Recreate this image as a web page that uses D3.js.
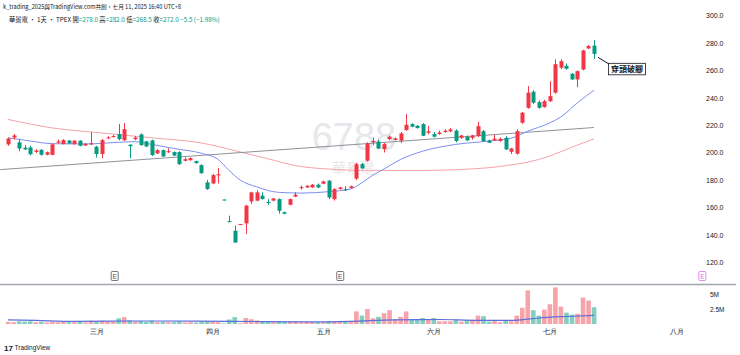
<!DOCTYPE html>
<html><head><meta charset="utf-8">
<script src="https://cdn.jsdelivr.net/npm/d3@7/dist/d3.min.js"></script>
<style>
html,body{margin:0;padding:0;background:#fff;}
svg{display:block;font-family:"Noto Sans CJK TC","Noto Sans",sans-serif;}
</style></head><body>
<svg id="c" width="740" height="355"></svg>
<script>
// ---------- data ----------
const opens  = [206,211,207.5,203.6,203.8,200.5,202,198.5,198.4,207.3,206.2,208.8,206.2,208.7,205.2,206,204.3,199,210.4,211.5,213.5,209.1,205.8,209.8,213.3,208.2,208.9,199.4,201.8,200.6,200.4,200.4,194,194.5,193.8,190.9,178.3,177.5,183.6,165.8,150,143,147.9,148.4,164.4,165,168.6,164,165,166.1,156.5,162,167.9,174.3,174.6,174.6,176.6,177.3,179.5,166.1,173.4,173.2,174.1,181,191.6,194.1,207.5,208,202.6,209.8,209.2,208.7,216.4,220.8,219.6,220.8,214.5,213.5,213.5,215,215.5,216,210.8,211.6,210.8,212,215.6,208.9,209,208.5,210.8,200.6,199.2,221.8,232.7,244.4,236.8,233.2,237.5,243.7,261.9,263.3,257.5,253.4,260.6,276,278];
const highs  = [211,213.5,209.6,205.5,205,202.5,202.5,200.8,206.8,209.5,209.8,209.2,209,209,207,215,205,210,212,213,220.8,221.5,206,212,214,208.6,209.5,202.5,202.3,203.2,200.8,201,196.5,196.5,194.2,191.5,180,184.5,188.7,165.8,154,146.7,147.9,162,171.5,172.5,171,166,167,166.6,157,166.5,171,176,176.3,177,177.5,179.5,180,174,175,175.5,176,192.5,192.5,207.5,211,209.5,207,212.5,211,215,228.1,221.5,220,221.5,219.5,215,216,217,218,217,213,212.5,213,222.5,216.5,209.5,213,211,212,203.5,217,229.6,248.5,245.5,238,238.5,252,268,268,265,258,260,275,278.5,282];
const lows   = [205,209.5,201,201.8,198,199.8,197.8,198,198,206.5,206,206.2,205.8,204.6,204.8,205.5,196.5,195.8,209.8,211,209,208.5,195.9,209,205,204,197.5,199,196.8,199.8,197.5,191,193.7,194,192,184.5,172.8,177,177.5,165.8,149.3,134.3,147.9,140.6,162.5,164.5,165.8,162,164.5,155.5,155,161.5,167.5,173,174.3,174.3,174,177,166,165,173,172,173.8,180,188,193.5,205.5,202.5,200.1,209,208.8,207,216,218.5,217.5,212,213.5,211,213,214.5,215,207.5,210,208.5,209.5,211.5,208,207,208.5,208,202,199,198.5,221,232,235.5,232,232.8,237,243,261,260.5,253,247.7,260,275.5,268.5];
const closes = [210.3,212.5,203,202.3,198.8,201.5,198.4,200.3,206,208.2,209.1,206.7,208.7,205,206.5,206.8,199,209.1,211.1,212.1,209.8,217.1,204.7,211,205.5,204.5,198.2,201.8,197.2,201,197.9,191.6,195.2,196,192.3,185,173.4,183.6,184.2,165.8,149.3,134.4,147.9,161.3,171,171,166.1,163.5,166.6,157.6,155.4,166.1,169.3,174.8,175.8,176.6,174.6,179,167.3,173.4,174.6,172.8,175.4,191.6,188.5,206.7,208.5,203,206.2,211.6,210.4,214,220.3,218.9,217.9,212.3,215.5,211.6,214.7,216,216.9,208.5,212.5,208.9,212.5,219.3,208.3,207.2,210.1,210,202.3,203,215.6,229.1,243.7,236.4,232.7,237.5,241.2,264.5,266.7,261.2,253.4,259.4,274.5,277.7,272];
const volumes = [0.35,0.3,0.45,0.4,0.45,0.3,0.35,0.25,0.4,0.3,0.35,0.3,0.3,0.35,0.25,0.55,0.5,0.55,0.45,0.4,0.95,1.15,0.6,0.4,0.5,0.35,0.55,0.3,0.35,0.3,0.3,0.45,0.25,0.3,0.25,0.4,0.45,0.35,0.3,0.1,0.75,1.15,0.15,1.0,0.8,0.6,0.45,0.35,0.3,0.45,0.3,0.35,0.4,0.3,0.35,0.35,0.3,0.3,0.5,0.4,0.4,0.4,0.4,2.1,1.4,2.5,0.95,1.2,1.8,2.3,0.8,1.2,2.1,0.8,0.8,1.0,0.8,1.0,0.45,0.45,0.45,0.7,0.4,0.6,0.7,1.4,1.3,0.4,0.55,0.3,0.65,0.45,1.4,2.7,5.6,2.3,1.4,2.4,3.3,6.1,2.9,1.9,1.55,1.7,4.4,3.9,2.8];

const monthIdx = [16,37,57,77,98,121];
const monthLabels = ["三月","四月","五月","六月","七月","八月"];
const priceTicks = [120,140,160,180,200,220,240,260,280,300];
const volTicks = [2.5,5];
const volTickLabels = ["2.5M","5M"];

const ma20Idx = [0,4,8,14,20,23,26,30,35,38,40,42,45,49,53,58,62,64,66,68,71,75,81,87,91,94,98,100,103,106];
const ma20Val = [210.8,208.5,206.5,206.3,207.5,208,206,203,199.5,195,187,180,175,171,170.5,171.5,173.5,178,183.5,188,195,201,206,208.4,210.5,215.6,221.7,226,236.3,245.5];
const ma60Idx = [0,8,17,26,35,41,44,48,52,58,64,75,87,90,94,98,102,106];
const ma60Val = [224.2,218,214.3,210.8,207,201.5,198.5,194.5,190.5,188,187,187,189,190.5,193,197.5,204,210];
const volMaIdx = [0,5,12,25,40,55,62,70,78,85,91,96,101,106];
const volMaVal = [0.7,0.6,0.45,0.5,0.45,0.35,0.45,0.7,0.75,0.6,0.6,1.0,1.25,1.45];
const trendIdx = [-1.4,106];
const trendVal = [187.6,218.3];
const earningsIdx = [19.3,60.1,125.6];
const watermarkCode = "6788";
const watermarkName = "華景電";
const noteText = "穿頭破腳";
const headerLine1 = "k_trading_2025與TradingView.com共創，七月 11, 2025 16:40 UTC+8";
const headerName = "華景電 · 1天 · TPEX";
const ohlcLabels = ["開","高","低","收"];
const ohlcValues = ["278.0","282.0","268.5","272.0"];
const changeText = "−5.5 (−1.98%)";

// ---------- setup ----------
const UP = "#f23645", DOWN = "#089981";
const svg = d3.select("#c");
svg.append("rect").attr("width",740).attr("height",355).attr("fill","#fff");

const x = d3.scaleLinear().domain([0,106]).range([8,594]);
const y = d3.scaleLinear().domain([120,300]).range([262.3,15.5]);
const yv = d3.scaleLinear().domain([0,5]).range([324,294]);

const defs = svg.append("defs");
defs.append("clipPath").attr("id","pc").append("rect").attr("x",0).attr("y",0).attr("width",700).attr("height",283);
defs.append("clipPath").attr("id","vc").append("rect").attr("x",0).attr("y",285).attr("width",700).attr("height",40);

const bars = closes.map((c,i)=>({i,o:opens[i],h:highs[i],l:lows[i],c,v:volumes[i]}));
function col(d){
  if (d.c>d.o) return UP;
  if (d.c<d.o) return DOWN;
  const prev = d.i>0?closes[d.i-1]:d.c;
  return d.c>=prev?UP:DOWN;
}

// ---------- watermark ----------
svg.append("text").attr("x",354).attr("y",150).attr("text-anchor","middle")
  .attr("font-size",38).attr("fill","#e7e8eb").attr("font-family","'Liberation Sans',sans-serif").text(watermarkCode);
svg.append("text").attr("x",353).attr("y",173).attr("text-anchor","middle")
  .attr("font-size",14).attr("fill","#e7e8eb").text(watermarkName);

// ---------- price pane ----------
const pg = svg.append("g").attr("clip-path","url(#pc)");
const lineGen = d3.line().x(d=>x(d[0])).y(d=>y(d[1])).curve(d3.curveMonotoneX);
pg.append("path").datum(ma60Idx.map((d,i)=>[d,ma60Val[i]])).attr("d",lineGen)
  .attr("fill","none").attr("stroke","#f5a3aa").attr("stroke-width",1);
pg.append("path").datum(trendIdx.map((d,i)=>[d,trendVal[i]])).attr("d",d3.line().x(d=>x(d[0])).y(d=>y(d[1])))
  .attr("fill","none").attr("stroke","#8f929b").attr("stroke-width",1);
pg.append("path").datum(ma20Idx.map((d,i)=>[d,ma20Val[i]])).attr("d",lineGen)
  .attr("fill","none").attr("stroke","#7d8ef0").attr("stroke-width",1);

const cg = pg.append("g");
cg.selectAll("line.w").data(bars).join("line")
  .attr("x1",d=>Math.round(x(d.i))+0.5).attr("x2",d=>Math.round(x(d.i))+0.5)
  .attr("y1",d=>y(d.h)).attr("y2",d=>Math.max(y(d.l),y(d.h)+1))
  .attr("stroke",col).attr("stroke-width",1);
cg.selectAll("rect.b").data(bars).join("rect")
  .attr("x",d=>Math.round(x(d.i))-1.5).attr("width",4)
  .attr("y",d=>y(Math.max(d.o,d.c)))
  .attr("height",d=>Math.max(1,Math.abs(y(d.o)-y(d.c))))
  .attr("fill",col);

// ---------- annotation ----------
const ax = x(106)+4, ay = y(269.5);
svg.append("line").attr("x1",ax).attr("y1",ay).attr("x2",ax+10.5).attr("y2",ay+6.5)
  .attr("stroke","#131722").attr("stroke-width",1);
svg.append("rect").attr("x",ax+10.5).attr("y",ay+6).attr("width",37).attr("height",11.5)
  .attr("fill","#fff").attr("stroke","#131722").attr("stroke-width",0.8);
svg.append("text").attr("x",ax+29).attr("y",ay+14.8).attr("text-anchor","middle")
  .attr("font-size",8).attr("font-weight","bold").attr("fill","#131722").text(noteText);

// ---------- price axis ----------
const ya = svg.append("g").attr("transform","translate(706,0)")
  .call(d3.axisRight(y).tickValues(priceTicks).tickFormat(d3.format(".1f")).tickSize(0).tickPadding(0));
ya.select(".domain").remove();
ya.selectAll("text").attr("font-size",7).attr("fill","#131722").attr("font-family","'Liberation Sans',sans-serif");

// ---------- earnings markers ----------
earningsIdx.forEach((e,k)=>{
  const ex = x(e);
  const c = k===2?"#d96ee6":"#50535e";
  svg.append("rect").attr("x",ex-3.5).attr("y",271.5).attr("width",7).attr("height",9)
    .attr("fill","#fff").attr("stroke",c).attr("stroke-width",0.8).attr("rx",1);
  svg.append("text").attr("x",ex).attr("y",278.8).attr("text-anchor","middle")
    .attr("font-size",6.5).attr("fill",c).attr("font-family","'Liberation Sans',sans-serif").text("E");
});

// separator
svg.append("line").attr("x1",0).attr("x2",736).attr("y1",284.5).attr("y2",284.5)
  .attr("stroke","#a3a6af").attr("stroke-width",1.5);

// ---------- volume pane ----------
const vg = svg.append("g").attr("clip-path","url(#vc)");
vg.selectAll("rect").data(bars).join("rect")
  .attr("x",d=>x(d.i)-2.2).attr("width",4.6)
  .attr("y",d=>yv(d.v)).attr("height",d=>yv(0)-yv(d.v))
  .attr("fill",d=>col(d)===UP?"#f7a3aa":"#84cdc0");
vg.append("path").datum(volMaIdx.map((d,i)=>[d,volMaVal[i]]))
  .attr("d",d3.line().x(d=>x(d[0])).y(d=>yv(d[1])).curve(d3.curveMonotoneX))
  .attr("fill","none").attr("stroke","#5d6fd8").attr("stroke-width",1.2);
const va = svg.append("g").attr("transform","translate(710,0)")
  .call(d3.axisRight(yv).tickValues(volTicks).tickFormat((d,i)=>volTickLabels[i]).tickSize(0).tickPadding(0));
va.select(".domain").remove();
va.selectAll("text").attr("font-size",6.5).attr("fill","#131722").attr("font-family","'Liberation Sans',sans-serif");

// ---------- time axis ----------
const xa = svg.append("g").attr("transform","translate(0,330.5)")
  .call(d3.axisBottom(x).tickValues(monthIdx).tickFormat((d,i)=>monthLabels[i]).tickSize(0).tickPadding(0));
xa.select(".domain").remove();
xa.selectAll("text").attr("font-size",6.5).attr("fill","#131722").attr("dy","0.6em");

// ---------- header ----------
svg.append("text").attr("x",3).attr("y",8.5).attr("font-size",5.7).attr("fill","#131722").text(headerLine1);
const h2 = svg.append("text").attr("x",9).attr("y",22).attr("font-size",6.3).attr("fill","#131722");
h2.append("tspan").text(headerName+"  ");
ohlcLabels.forEach((l,i)=>{
  h2.append("tspan").attr("fill","#131722").text(l);
  h2.append("tspan").attr("fill",DOWN).text("="+ohlcValues[i]+"  ");
});
h2.append("tspan").attr("fill",DOWN).text(changeText);

// ---------- logo ----------
svg.append("text").attr("x",4).attr("y",350.5).attr("font-size",8).attr("font-weight","bold")
  .attr("fill","#131722").attr("font-family","'Liberation Sans',sans-serif").text("17");
svg.append("text").attr("x",14.5).attr("y",350).attr("font-size",6.5)
  .attr("fill","#131722").attr("font-family","'Liberation Sans',sans-serif").text("TradingView");
</script>
</body></html>
